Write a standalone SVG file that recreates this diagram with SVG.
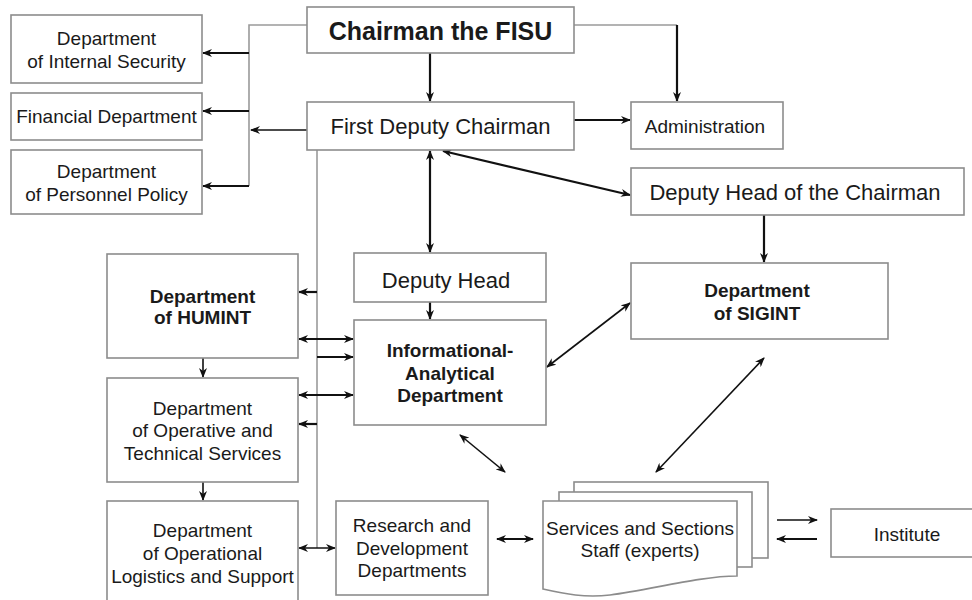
<svg xmlns="http://www.w3.org/2000/svg" width="972" height="600" viewBox="0 0 972 600">
<defs>
<style>
.box{fill:#fff;stroke:#8c8c8c;stroke-width:1.6}
.t{font-family:"Liberation Sans",Arial,sans-serif;font-size:19px;fill:#1a1a1a;text-anchor:middle}
.b{font-weight:bold}
.big{font-size:22px}
.gl{fill:none;stroke:#9a9a9a;stroke-width:1.6}
.ar{fill:none;stroke:#111;stroke-width:2.2}
.thin{stroke-width:1.6}
</style>
<marker id="ah" markerWidth="10" markerHeight="8" refX="9" refY="4" orient="auto-start-reverse" markerUnits="userSpaceOnUse">
<path d="M0,0 L10,4 L0,8 L3,4 Z" fill="#111"/>
</marker>
</defs>
<rect width="972" height="600" fill="#fff"/>
<g id="connectors">
<polyline class="gl" points="307,25 249,25 249,186"/>
<line class="gl" x1="574" y1="25" x2="677" y2="25"/>
<line class="gl" x1="317" y1="150" x2="317" y2="548"/>
<line class="ar" x1="249" y1="53" x2="203" y2="53" marker-end="url(#ah)"/>
<line class="ar" x1="249" y1="111" x2="203" y2="111" marker-end="url(#ah)"/>
<line class="ar" x1="249" y1="186" x2="203" y2="186" marker-end="url(#ah)"/>
<line class="ar thin" x1="307" y1="130" x2="251" y2="130" marker-end="url(#ah)"/>
<line class="ar" x1="430" y1="53" x2="430" y2="101" marker-end="url(#ah)"/>
<line class="ar" x1="677" y1="25" x2="677" y2="101" marker-end="url(#ah)"/>
<line class="ar" x1="574" y1="120" x2="630" y2="120" marker-end="url(#ah)"/>
<line class="ar" x1="443" y1="151" x2="630" y2="195" marker-start="url(#ah)" marker-end="url(#ah)"/>
<line class="ar" x1="430" y1="151" x2="430" y2="252" marker-start="url(#ah)" marker-end="url(#ah)"/>
<line class="ar" x1="764" y1="215" x2="764" y2="262" marker-end="url(#ah)"/>
<line class="ar" x1="430" y1="302" x2="430" y2="319" marker-end="url(#ah)"/>
<line class="ar thin" x1="547" y1="367" x2="630" y2="303" marker-start="url(#ah)" marker-end="url(#ah)"/>
<line class="ar" x1="317" y1="292" x2="299" y2="292" marker-end="url(#ah)"/>
<line class="ar" x1="299" y1="339" x2="353" y2="339" marker-start="url(#ah)" marker-end="url(#ah)"/>
<line class="ar" x1="317" y1="357" x2="353" y2="357" marker-end="url(#ah)"/>
<line class="ar" x1="299" y1="395" x2="353" y2="395" marker-start="url(#ah)" marker-end="url(#ah)"/>
<line class="ar" x1="317" y1="424" x2="299" y2="424" marker-end="url(#ah)"/>
<line class="ar thin" x1="203" y1="358" x2="203" y2="377" marker-end="url(#ah)"/>
<line class="ar thin" x1="203" y1="482" x2="203" y2="500" marker-end="url(#ah)"/>
<line class="ar thin" x1="299" y1="548" x2="335" y2="548" marker-start="url(#ah)" marker-end="url(#ah)"/>
<line class="ar" x1="497" y1="539" x2="533" y2="539" marker-start="url(#ah)" marker-end="url(#ah)"/>
<line class="ar thin" x1="460" y1="435" x2="505" y2="472" marker-start="url(#ah)" marker-end="url(#ah)"/>
<line class="ar thin" x1="764" y1="358" x2="656" y2="472" marker-start="url(#ah)" marker-end="url(#ah)"/>
<line class="ar thin" x1="777" y1="520" x2="817" y2="520" marker-end="url(#ah)"/>
<line class="ar" x1="817" y1="539" x2="777" y2="539" marker-end="url(#ah)"/>
</g>
<g id="internal-security"><rect class="box" x="11" y="15" width="191" height="68"/><text class="t" x="106.5" y="45">Department</text><text class="t" x="106.5" y="68">of Internal Security</text></g>
<g id="financial"><rect class="box" x="11" y="93" width="191" height="47"/><text class="t" x="106.5" y="123">Financial Department</text></g>
<g id="personnel"><rect class="box" x="11" y="150" width="191" height="64"/><text class="t" x="106.5" y="178">Department</text><text class="t" x="106.5" y="201">of Personnel Policy</text></g>
<g id="chairman"><rect class="box" x="307" y="7" width="267" height="46"/><text class="t b" x="440.5" y="40" style="font-size:25px">Chairman the FISU</text></g>
<g id="first-deputy"><rect class="box" x="307" y="102" width="267" height="48"/><text class="t big" x="440.5" y="134">First Deputy Chairman</text></g>
<g id="administration"><rect class="box" x="631" y="102" width="152" height="47"/><text class="t" x="705" y="133">Administration</text></g>
<g id="deputy-head-chairman"><rect class="box" x="631" y="168" width="333" height="47"/><text class="t big" x="795" y="200">Deputy Head of the Chairman</text></g>
<g id="sigint"><rect class="box" x="631" y="263" width="257" height="76"/><text class="t b" x="757" y="297">Department</text><text class="t b" x="757" y="320">of SIGINT</text></g>
<g id="deputy-head"><rect class="box" x="354" y="253" width="192" height="49"/><text class="t big" x="446" y="288">Deputy Head</text></g>
<g id="informational"><rect class="box" x="354" y="320" width="192" height="105"/><text class="t b" x="450" y="357">Informational-</text><text class="t b" x="450" y="380">Analytical</text><text class="t b" x="450" y="402">Department</text></g>
<g id="humint"><rect class="box" x="107" y="254" width="191" height="104"/><text class="t b" x="202.5" y="303">Department</text><text class="t b" x="202.5" y="324">of HUMINT</text></g>
<g id="operative"><rect class="box" x="107" y="378" width="191" height="104"/><text class="t" x="202.5" y="415">Department</text><text class="t" x="202.5" y="437">of Operative and</text><text class="t" x="202.5" y="460">Technical Services</text></g>
<g id="logistics"><rect class="box" x="107" y="501" width="191" height="110"/><text class="t" x="202.5" y="537">Department</text><text class="t" x="202.5" y="560">of Operational</text><text class="t" x="202.5" y="583">Logistics and Support</text></g>
<g id="research"><rect class="box" x="336" y="501" width="152" height="94"/><text class="t" x="412" y="532">Research and</text><text class="t" x="412" y="555">Development</text><text class="t" x="412" y="577">Departments</text></g>
<g id="services">
<rect class="box" x="574" y="482" width="194" height="76"/>
<rect class="box" x="559" y="492" width="193" height="75"/>
<path class="box" d="M543,501 H737 V576 C700,576 650,590 610,595 C585,598 565,594 543,589 Z"/>
<text class="t" x="640" y="535">Services and Sections</text><text class="t" x="640" y="557">Staff (experts)</text>
</g>
<g id="institute"><rect class="box" x="831" y="509" width="150" height="48"/><text class="t" x="907" y="541">Institute</text></g>
</svg>
